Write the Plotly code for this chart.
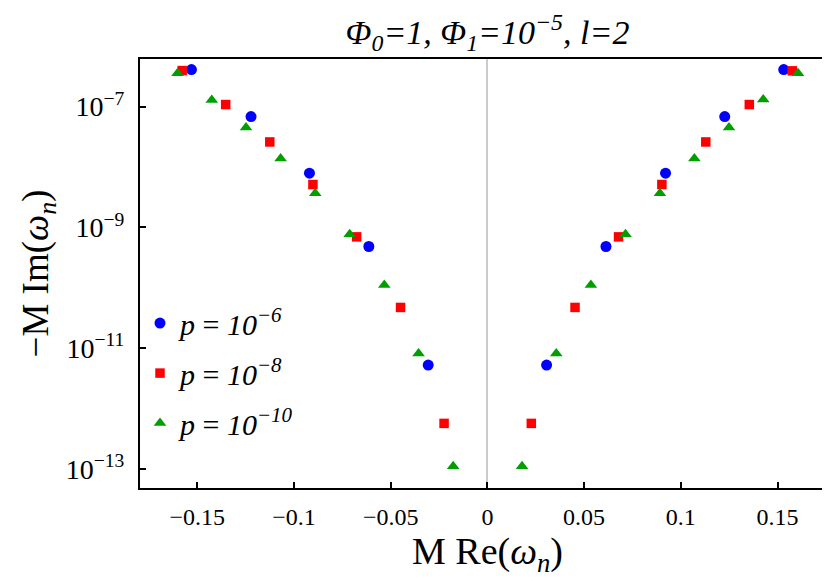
import plotly.graph_objects as go

# p = 1e-6 (blue circles)
re_p6 = [-0.1530, -0.1222, -0.0920, -0.0613, -0.0306, 0.0306, 0.0613, 0.0921, 0.1227, 0.1532]
im_p6 = [4.09e-7, 6.84e-8, 7.91e-9, 4.85e-10, 5.30e-12, 5.30e-12, 4.85e-10, 7.91e-9, 6.84e-8, 4.09e-7]

# p = 1e-8 (red squares)
re_p8 = [-0.1578, -0.1353, -0.1125, -0.0902, -0.0676, -0.0449, -0.0224,
         0.0227, 0.0453, 0.0678, 0.0902, 0.1129, 0.1354, 0.1576]
im_p8 = [3.94e-7, 1.08e-7, 2.60e-8, 5.14e-9, 7.00e-10, 4.76e-11, 5.75e-13,
         5.75e-13, 4.76e-11, 7.00e-10, 5.14e-9, 2.60e-8, 1.08e-7, 3.90e-7]

# p = 1e-10 (green triangles)
re_p10 = [-0.1602, -0.1425, -0.1248, -0.1069, -0.0890, -0.0712, -0.0533, -0.0356, -0.0177,
          0.0179, 0.0356, 0.0535, 0.0714, 0.0892, 0.1070, 0.1249, 0.1426, 0.1606]
im_p10 = [3.55e-7, 1.29e-7, 4.50e-8, 1.38e-8, 3.69e-9, 7.74e-10, 1.12e-10, 8.26e-12, 1.12e-13,
          1.12e-13, 8.26e-12, 1.12e-10, 7.74e-10, 3.69e-9, 1.38e-8, 4.50e-8, 1.31e-7, 3.55e-7]

x_tickvals = [-0.15, -0.1, -0.05, 0, 0.05, 0.1, 0.15]
x_ticktext = ["\u22120.15", "\u22120.1", "\u22120.05", "0", "0.05", "0.1", "0.15"]
y_tickvals = [1e-7, 1e-9, 1e-11, 1e-13]
y_ticktext = ["10<sup>\u22127</sup>", "10<sup>\u22129</sup>", "10<sup>\u221211</sup>", "10<sup>\u221213</sup>"]

series_names = ["<i>p</i> = <i>10<sup>\u22126</sup></i>",
                "<i>p</i> = <i>10<sup>\u22128</sup></i>",
                "<i>p</i> = <i>10<sup>\u221210</sup></i>"]

FONT = "Liberation Serif"

fig = go.Figure()
fig.add_trace(go.Scatter(x=re_p6, y=im_p6, mode="markers", name=series_names[0], legendgroup="a",
                         marker=dict(symbol="circle", size=11, color="#0000FF", line=dict(width=0))))
fig.add_trace(go.Scatter(x=re_p8, y=im_p8, mode="markers", name=series_names[1], legendgroup="b",
                         marker=dict(symbol="square", size=9.5, color="#FF0000", line=dict(width=0))))
fig.add_trace(go.Scatter(x=re_p10, y=im_p10, mode="markers", name=series_names[2], legendgroup="c",
                         marker=dict(symbol="triangle-up", size=11, color="#009F00", line=dict(width=0))))

fig.update_layout(
    width=830, height=581,
    margin=dict(l=132, r=3, t=51, b=101, autoexpand=False),
    paper_bgcolor="white", plot_bgcolor="white",
    font=dict(family=FONT, color="black", size=24),
    title=dict(text="<i>\u03a6<sub>0</sub>=1, \u03a6<sub>1</sub>=10<sup>\u22125</sup>, l=2</i>",
               x=0.5, xref="paper", xanchor="center", y=1.0, yref="container", yanchor="top",
               pad=dict(t=12), font=dict(family=FONT, size=34, color="black")),
    showlegend=True,
    legend=dict(x=0.0, xanchor="left", y=0.445, yanchor="top", bgcolor="rgba(0,0,0,0)",
                font=dict(family=FONT, size=30, color="black"), tracegroupgap=8,
                itemsizing="trace"),
    xaxis=dict(range=[-0.1796, 0.1797], tickvals=x_tickvals, ticktext=x_ticktext,
               ticks="inside", ticklen=6, tickwidth=2, tickcolor="black",
               showline=True, linecolor="black", linewidth=2, mirror=True,
               showgrid=False, zeroline=True, zerolinecolor="#cccccc", zerolinewidth=1.5,
               automargin=False,
               tickfont=dict(family=FONT, size=24), ticklabelstandoff=6,
               title=dict(text="M Re(<i>\u03c9<sub>n</sub></i>)", font=dict(family=FONT, size=38), standoff=8)),
    yaxis=dict(type="log", range=[-13.309, -6.213], tickvals=y_tickvals, ticktext=y_ticktext,
               ticks="inside", ticklen=6, tickwidth=2, tickcolor="black",
               showline=True, linecolor="black", linewidth=2, mirror=True,
               showgrid=False, zeroline=False, automargin=False,
               tickfont=dict(family=FONT, size=28), ticklabelstandoff=8,
               title=dict(text="\u2212M Im(<i>\u03c9<sub>n</sub></i>)", font=dict(family=FONT, size=37), standoff=6)),
)

fig.write_html("out.html")
